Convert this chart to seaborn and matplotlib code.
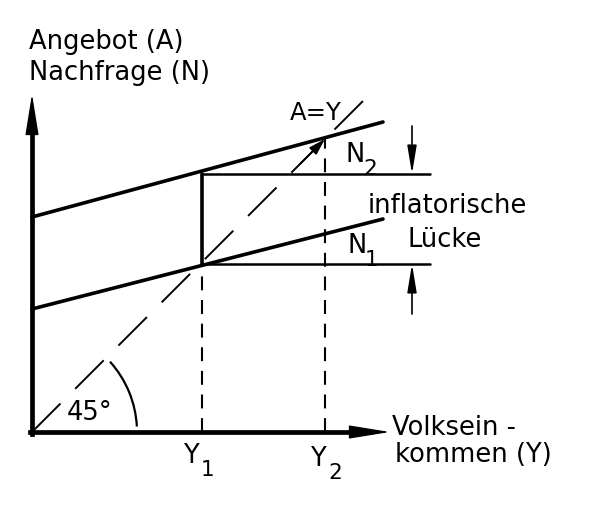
import numpy as np
import pandas as pd
import matplotlib
matplotlib.use("Agg")
import matplotlib.pyplot as plt
import seaborn as sns
from matplotlib.patches import Arc

# -----------------------------
# Data
# -----------------------------
y_range = [0, 351]          # income range covered by the demand lines
n1_vals = [123, 213]        # Nachfrage N1 at both ends
n2_vals = [215, 310]        # Nachfrage N2 at both ends
diag_vals = [0, 343]        # A = Y (45 degree line)
Y1 = 170
Y2 = 293
n1_at_y1 = 168
n2_at_y1 = 258
n2_at_y2 = 293
x_axis_end = 358
y_axis_end = 338
gap_right = 398
gap_arrow_x = 380

# (main letter, subscript, x, y baseline)
sub_labels = [
    ("N", "2", 313, 271),
    ("N", "1", 315, 180),
    ("Y", "1", 151, -30),
    ("Y", "2", 278, -33),
]

df = pd.DataFrame({
    "Y": y_range * 2,
    "N": n1_vals + n2_vals,
    "Kurve": ["N1", "N1", "N2", "N2"],
})

# -----------------------------
# Style
# -----------------------------
sns.set_theme(style="white")
plt.rcParams["font.family"] = ["DejaVu Sans"]
plt.rcParams["text.color"] = "black"
plt.rcParams["lines.scale_dashes"] = False

fig = plt.figure(figsize=(6.06, 5.10), dpi=100)
ax = fig.add_axes([0, 0, 1, 1])
ax.set_xlim(-32, 574)
ax.set_ylim(-77, 433)
ax.axis("off")

# demand lines N1, N2
sns.lineplot(data=df, x="Y", y="N", units="Kurve", estimator=None,
             color="black", linewidth=2.6, ax=ax, legend=False)

# 45 degree line A = Y
ax.plot(diag_vals, diag_vals, color="black", linewidth=1.4,
        linestyle=(0, (29, 15)))
ax.annotate("", xy=(n2_at_y2, n2_at_y2), xytext=(n2_at_y2 - 25, n2_at_y2 - 25),
            arrowprops=dict(arrowstyle="-|>,head_length=1.0,head_width=0.3",
                            color="black", lw=1.2, mutation_scale=10,
                            shrinkA=0, shrinkB=0))

# inflationary gap: vertical at Y1 and horizontals
ax.plot([Y1, Y1], [n1_at_y1, n2_at_y1], color="black", linewidth=2.6)
ax.plot([Y1, gap_right], [n2_at_y1, n2_at_y1], color="black", linewidth=1.8)
ax.plot([Y1, gap_right], [n1_at_y1, n1_at_y1], color="black", linewidth=1.8)

# dashed verticals
ax.plot([Y1, Y1], [0, n1_at_y1], color="black", linewidth=1.5,
        linestyle=(0, (10, 7)))
ax.plot([Y2, Y2], [0, n2_at_y2], color="black", linewidth=1.5,
        linestyle=(0, (10, 7)))

# gap arrows
small_head = dict(arrowstyle="-|>,head_length=1.7,head_width=0.28",
                  color="black", lw=1.2, mutation_scale=10,
                  shrinkA=0, shrinkB=0)
ax.annotate("", xy=(gap_arrow_x, n2_at_y1), xytext=(gap_arrow_x, n2_at_y1 + 48),
            arrowprops=small_head)
ax.annotate("", xy=(gap_arrow_x, n1_at_y1), xytext=(gap_arrow_x, n1_at_y1 - 50),
            arrowprops=small_head)

# axes with arrows
ax.plot([0, 0], [-2, y_axis_end - 20], color="black", linewidth=3.4,
        solid_capstyle="projecting")
ax.plot([-2, x_axis_end - 20], [0, 0], color="black", linewidth=3.4,
        solid_capstyle="projecting")
big_head = dict(arrowstyle="-|>,head_length=2.6,head_width=0.42",
                color="black", lw=1.0, mutation_scale=10,
                shrinkA=0, shrinkB=0)
ax.annotate("", xy=(0, y_axis_end), xytext=(0, y_axis_end - 40),
            arrowprops=big_head)
ax.annotate("", xy=(x_axis_end, 0), xytext=(x_axis_end - 40, 0),
            arrowprops=big_head)

# 45 degree arc
ax.add_patch(Arc((0, 0), 210, 210, theta1=3, theta2=42,
                 color="black", linewidth=1.6))

# -----------------------------
# Texts
# -----------------------------
fs = 18.5
ax.text(-3, 391, "Angebot (A)", fontsize=fs, va="center", ha="left")
ax.text(-3, 360, "Nachfrage (N)", fontsize=fs, va="center", ha="left")
ax.text(258, 313, "A=Y", fontsize=fs - 1, va="baseline", ha="left")
ax.text(336, 220, "inflatorische", fontsize=fs, va="baseline", ha="left")
ax.text(375, 186, "Lücke", fontsize=fs, va="baseline", ha="left")
ax.text(35, 13, "45°", fontsize=fs, va="baseline", ha="left")
ax.text(360, -2, "Volksein -", fontsize=fs, va="baseline", ha="left")
ax.text(363, -29, "kommen (Y)", fontsize=fs, va="baseline", ha="left")

for main, sub, x, y in sub_labels:
    ax.text(x, y, main, fontsize=fs, va="baseline", ha="left")
    ax.text(x + 18, y - 13, sub, fontsize=fs - 3, va="baseline", ha="left")

fig.savefig("out.png", dpi=100, facecolor="white")
